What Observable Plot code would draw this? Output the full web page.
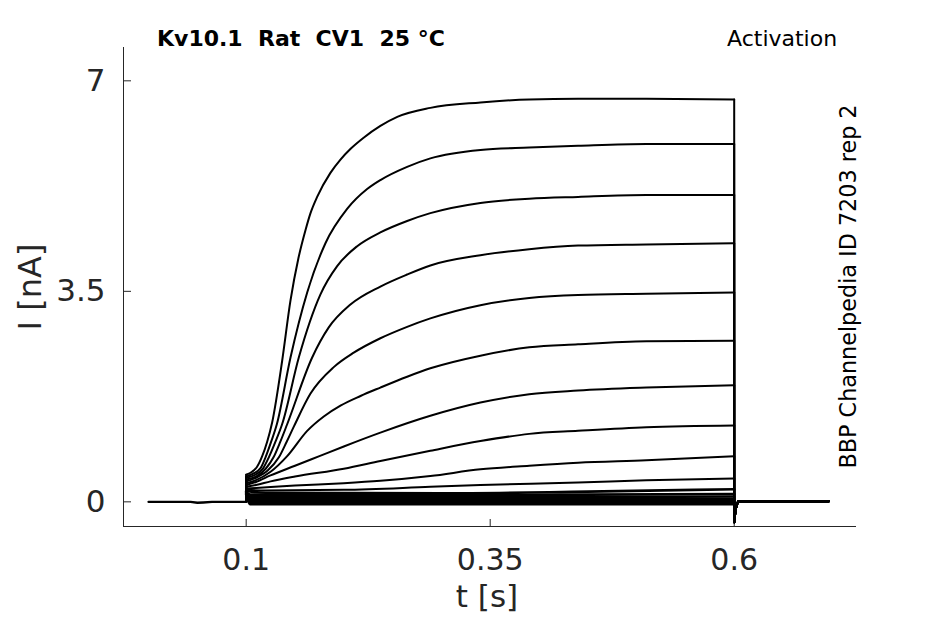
<!DOCTYPE html>
<html>
<head>
<meta charset="utf-8">
<script src="https://cdn.jsdelivr.net/npm/d3@7"></script>
<script src="https://cdn.jsdelivr.net/npm/@observablehq/plot@0.6"></script>
<style>
  html, body { margin: 0; padding: 0; background: #fff; }
  #chart { width: 945px; height: 624px; }
</style>
</head>
<body>
<div id="chart"></div>
<script>
// ---- tick values and labels ----
const xTicks = [0.1, 0.35, 0.6];
const xTickLabels = ["0.1", "0.35", "0.6"];
const yTicks = [0, 3.5, 7];
const yTickLabels = ["0", "3.5", "7"];
const xDomain = [-0.0257, 0.7253];
const yDomain = [-0.41, 7.554];

// ---- holding period before the step (s, nA) ----
const preTimes  = [0, 0.043, 0.05, 0.056, 0.065, 0.1];
const preValues = [0, 0, -0.015, -0.01, 0, 0];

// ---- tail after the step (s, nA) ----
const tailTimes  = [0.6, 0.6015, 0.604, 0.62, 0.697];
const tailValues = [-0.34, -0.12, 0.01, 0.01, 0.01];

// ---- current during the step, one sweep per array: [t (s), I (nA)] ----
const trace01 = [[0.1,0.45],[0.106,0.5],[0.111,0.58],[0.1164,0.76],[0.1215,1.0],[0.1266,1.32],[0.1369,2.35],[0.1454,3.35],[0.1535,4.05],[0.1608,4.52],[0.1659,4.8],[0.1727,5.07],[0.1863,5.47],[0.1966,5.69],[0.207,5.87],[0.22,6.05],[0.2375,6.25],[0.2548,6.40],[0.2887,6.55],[0.34,6.64],[0.39,6.69],[0.44,6.70],[0.51,6.70],[0.6,6.69]];
const trace02 = [[0.1,0.42],[0.106,0.46],[0.1147,0.56],[0.1198,0.74],[0.1256,1.0],[0.1314,1.29],[0.1454,2.40],[0.1625,3.48],[0.1812,4.30],[0.2034,4.87],[0.2239,5.2],[0.2375,5.35],[0.2649,5.57],[0.2887,5.71],[0.34,5.85],[0.39,5.89],[0.44,5.92],[0.51,5.95],[0.6,5.95]];
const trace03 = [[0.1,0.40],[0.108,0.44],[0.117,0.55],[0.1232,0.74],[0.13,1.0],[0.1368,1.29],[0.1539,2.40],[0.1761,3.45],[0.1932,3.92],[0.2137,4.25],[0.2375,4.48],[0.2649,4.67],[0.2887,4.80],[0.34,4.97],[0.39,5.04],[0.44,5.07],[0.51,5.10],[0.6,5.10]];
const trace04 = [[0.1,0.37],[0.11,0.42],[0.12,0.55],[0.128,0.74],[0.135,1.0],[0.142,1.29],[0.1676,2.40],[0.1846,2.90],[0.2068,3.28],[0.2375,3.58],[0.2649,3.78],[0.2887,3.93],[0.34,4.10],[0.39,4.20],[0.44,4.26],[0.51,4.28],[0.6,4.30]];
const trace05 = [[0.1,0.34],[0.11,0.40],[0.122,0.52],[0.1335,0.74],[0.1415,1.0],[0.1488,1.25],[0.1659,1.80],[0.1897,2.24],[0.2102,2.48],[0.2375,2.72],[0.2649,2.91],[0.2887,3.05],[0.34,3.27],[0.39,3.39],[0.44,3.44],[0.51,3.46],[0.6,3.48]];
const trace06 = [[0.1,0.31],[0.11,0.36],[0.125,0.50],[0.142,0.76],[0.1625,1.18],[0.1795,1.42],[0.1966,1.60],[0.2171,1.76],[0.2375,1.90],[0.2649,2.08],[0.2887,2.22],[0.34,2.43],[0.39,2.57],[0.44,2.62],[0.51,2.67],[0.6,2.68]];
const trace07 = [[0.1,0.28],[0.11,0.33],[0.1249,0.44],[0.15,0.60],[0.175,0.76],[0.2,0.92],[0.2375,1.15],[0.2887,1.43],[0.34,1.65],[0.39,1.79],[0.44,1.85],[0.51,1.90],[0.6,1.94]];
const trace08 = [[0.1,0.25],[0.11,0.28],[0.125,0.34],[0.15,0.42],[0.2,0.55],[0.2375,0.68],[0.2887,0.85],[0.34,1.01],[0.39,1.13],[0.44,1.18],[0.51,1.24],[0.6,1.27]];
const trace09 = [[0.1,0.22],[0.11,0.23],[0.15,0.27],[0.2,0.31],[0.2375,0.35],[0.2887,0.43],[0.34,0.54],[0.39,0.60],[0.44,0.65],[0.51,0.69],[0.6,0.76]];
const trace10 = [[0.1,0.20],[0.12,0.19],[0.2,0.20],[0.2887,0.25],[0.34,0.28],[0.44,0.32],[0.51,0.36],[0.6,0.39]];
const trace11 = [[0.1,0.18],[0.12,0.15],[0.3,0.14],[0.45,0.17],[0.6,0.21]];
const trace12 = [[0.1,0.17],[0.104,0.12],[0.3,0.11],[0.45,0.12],[0.6,0.13]];
const trace13 = [[0.1,0.16],[0.104,0.08],[0.3,0.08],[0.45,0.08],[0.6,0.09]];
const trace14 = [[0.1,0.15],[0.104,0.05],[0.3,0.05],[0.45,0.05],[0.6,0.05]];
const trace15 = [[0.1,0.14],[0.104,0.02],[0.3,0.02],[0.45,0.02],[0.6,0.02]];
const trace16 = [[0.1,0.13],[0.104,-0.01],[0.3,-0.01],[0.45,-0.01],[0.6,-0.01]];
const trace17 = [[0.1,0.12],[0.104,-0.04],[0.3,-0.04],[0.45,-0.04],[0.6,-0.04]];

// ---- annotation texts ----
const titleText = "Kv10.1  Rat  CV1  25 °C";
const protocolText = "Activation";
const sourceText = "BBP Channelpedia ID 7203 rep 2";
const xLabel = "t [s]";
const yLabel = "I [nA]";

// ---- build tables for Plot ----
const sweeps = [trace01, trace02, trace03, trace04, trace05, trace06, trace07, trace08, trace09,
                trace10, trace11, trace12, trace13, trace14, trace15, trace16, trace17];
const pulseRows = sweeps.flatMap((tr, k) => tr.map(([t, I]) => ({t, I, k})));
const onsetRows = sweeps.flatMap((tr, k) => [{t: preTimes.at(-1), I: preValues.at(-1), k}, {t: tr[0][0], I: tr[0][1], k}]);
const offsetRows = sweeps.flatMap((tr, k) => [
  {t: tr.at(-1)[0], I: tr.at(-1)[1], k},
  ...tailTimes.map((t, i) => ({t, I: tailValues[i], k}))
]);
const preRows = preTimes.map((t, i) => ({t, I: preValues[i]}));
const isSmall = d => d.k >= 10; // sweeps that stay near zero form a dense band

const W = 945, H = 624;
const mL = 123, mR = 89, mT = 47, mB = 98;
const frameW = W - mL - mR, frameH = H - mT - mB;
const ink = "#262626";

const chart = Plot.plot({
  width: W,
  height: H,
  marginLeft: mL,
  marginRight: mR,
  marginTop: mT,
  marginBottom: mB,
  style: {fontFamily: "DejaVu Sans, sans-serif", background: "#fff", color: ink, overflow: "visible"},
  x: {domain: xDomain, label: null},
  y: {domain: yDomain, label: null},
  marks: [
    Plot.ruleX([xDomain[0]], {stroke: ink, strokeWidth: 1}),
    Plot.ruleY([yDomain[0]], {stroke: ink, strokeWidth: 1}),
    Plot.tickX(xTicks, {x: d => d, insetTop: frameH - 7, stroke: ink, strokeWidth: 1}),
    Plot.tickY(yTicks, {y: d => d, insetRight: frameW - 8, stroke: ink, strokeWidth: 1}),
    Plot.axisX({ticks: xTicks, tickSize: 0, tickPadding: 22, fontSize: 30, label: null,
                tickFormat: d => xTickLabels[xTicks.indexOf(d)]}),
    Plot.axisY({ticks: yTicks, tickSize: 0, tickPadding: 18, fontSize: 31, label: null,
                tickFormat: d => yTickLabels[yTicks.indexOf(d)]}),
    Plot.line(preRows, {x: "t", y: "I", stroke: "#000", strokeWidth: 2.4}),
    Plot.line(onsetRows, {x: "t", y: "I", z: "k", stroke: "#000", strokeWidth: 2}),
    Plot.line(pulseRows.filter(d => !isSmall(d)), {x: "t", y: "I", z: "k", stroke: "#000", strokeWidth: 2, curve: "monotone-x"}),
    Plot.line(pulseRows.filter(isSmall), {x: "t", y: "I", z: "k", stroke: "#000", strokeWidth: 2.6, curve: "monotone-x"}),
    Plot.line(offsetRows, {x: "t", y: "I", z: "k", stroke: "#000", strokeWidth: 2})
  ]
});

const svg = d3.select(chart);
svg.append("text").attr("x", 157).attr("y", 46).attr("text-anchor", "start").attr("font-size", 22)
  .attr("font-weight", "bold").attr("fill", "#000").attr("font-family", "DejaVu Sans").text(titleText);
svg.append("text").attr("x", 727).attr("y", 46).attr("text-anchor", "start").attr("font-size", 22)
  .attr("fill", "#000").attr("font-family", "DejaVu Sans").text(protocolText);
svg.append("text").attr("transform", "translate(856,286.5) rotate(-90)").attr("text-anchor", "middle")
  .attr("font-size", 22.3).attr("fill", "#000").attr("font-family", "DejaVu Sans").text(sourceText);
svg.append("text").attr("x", 487).attr("y", 607).attr("text-anchor", "middle")
  .attr("font-size", 31).attr("fill", ink).attr("font-family", "DejaVu Sans").text(xLabel);
svg.append("text").attr("transform", "translate(41,287) rotate(-90)").attr("text-anchor", "middle")
  .attr("font-size", 32).attr("fill", ink).attr("font-family", "DejaVu Sans").text(yLabel);

document.getElementById("chart").appendChild(chart);
</script>
</body>
</html>
